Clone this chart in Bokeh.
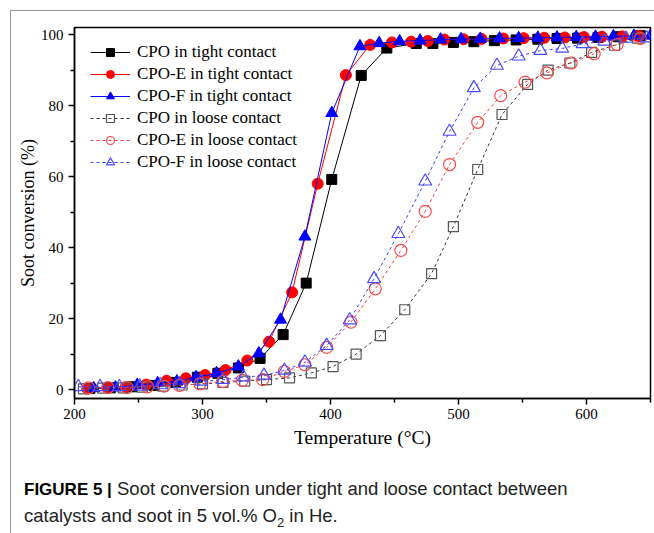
from bokeh.plotting import figure
from bokeh.models import Range1d, FixedTicker, Div, InlineStyleSheet
from bokeh.layouts import column
from bokeh.embed import file_html
from bokeh.resources import INLINE

# ---- data ----
tight_cpo_T = [212, 228, 245, 262, 279, 296, 312, 328, 345, 363, 381, 401, 424, 444, 467, 480, 496, 512, 528, 545, 562, 577, 593, 609, 625, 642]
tight_cpo_v = [0.3, 0.5, 0.8, 1.2, 2.0, 3.5, 4.6, 6.1, 8.8, 15.5, 30.0, 59.2, 88.5, 96.2, 97.5, 97.5, 97.8, 98.0, 98.3, 98.5, 98.7, 98.9, 99.0, 99.2, 99.4, 99.7]

tight_e_T = [210, 226, 240, 256, 272, 287, 302, 318, 335, 352, 370, 390, 412, 431, 448, 463, 476, 489, 504, 518, 535, 551, 567, 583, 598, 612, 628, 641]
tight_e_v = [0.3, 0.5, 0.7, 1.4, 2.5, 3.2, 4.1, 5.5, 8.2, 13.5, 27.4, 58.0, 88.6, 97.1, 97.8, 98.0, 98.2, 98.6, 98.7, 98.8, 98.9, 99.0, 99.1, 99.2, 99.3, 99.4, 99.5, 99.6]

tight_f_T = [215, 232, 249, 265, 280, 295, 311, 328, 344, 361, 380, 401, 423, 438, 454, 470, 486, 502, 517, 532, 547, 562, 577, 592, 607, 621, 637, 650]
tight_f_v = [0.4, 0.6, 1.3, 1.8, 2.3, 3.5, 4.6, 6.5, 10.2, 19.7, 43.1, 77.9, 96.7, 97.6, 98.1, 98.3, 98.6, 98.7, 98.8, 98.9, 99.0, 99.1, 99.2, 99.3, 99.4, 99.5, 99.6, 99.7]

loose_cpo_T = [207, 222, 238, 253, 269, 284, 300, 316, 333, 350, 368, 385, 402, 420, 439, 458, 479, 496, 515, 534, 554, 570, 587, 604, 622, 640]
loose_cpo_v = [0.2, 0.4, 0.5, 0.7, 1.0, 1.3, 1.6, 2.0, 2.4, 2.8, 3.3, 4.7, 6.5, 10.0, 15.2, 22.5, 32.7, 45.9, 62.0, 77.5, 86.0, 90.0, 92.0, 95.0, 97.0, 99.0]

loose_e_T = [211, 226, 241, 257, 270, 282, 298, 316, 331, 347, 364, 380, 397, 416, 435, 455, 474, 493, 515, 533, 552, 569, 588, 606, 624, 642]
loose_e_v = [0.5, 0.6, 0.6, 0.8, 1.0, 1.2, 1.6, 2.3, 2.6, 2.8, 5.1, 7.0, 11.9, 19.0, 28.4, 39.2, 50.2, 63.4, 75.3, 82.8, 86.6, 89.2, 92.0, 94.6, 97.2, 98.9]

loose_f_T = [203, 220, 235, 251, 267, 282, 299, 316, 332, 348, 364, 380, 397, 415, 434, 453, 474, 493, 512, 530, 547, 564, 581, 597, 614, 631, 647]
loose_f_v = [0.8, 0.8, 0.8, 0.9, 1.3, 1.6, 2.3, 2.8, 3.5, 4.0, 5.4, 7.7, 12.4, 19.6, 31.2, 43.9, 58.7, 72.7, 85.0, 91.3, 93.9, 95.5, 96.1, 97.4, 98.1, 98.9, 99.0]

x_ticks = [200, 300, 400, 500, 600]
y_ticks = [0, 20, 40, 60, 80, 100]

SERIF = "Liberation Serif"

p = figure(width=643, height=447, output_backend="svg", toolbar_location=None,
           x_range=Range1d(200, 650), y_range=Range1d(-2.5, 102),
           min_border_left=63, min_border_right=4, min_border_top=16, min_border_bottom=60,
           x_axis_label="Temperature (\u00b0C)", y_axis_label="Soot conversion (%)")

p.grid.visible = False
p.outline_line_color = "black"
p.outline_line_width = 1.5
p.background_fill_color = "white"
p.border_fill_color = "white"

for ax in (p.xaxis[0], p.yaxis[0]):
    ax.axis_line_width = 1.5
    ax.axis_line_color = "black"
    ax.major_tick_line_width = 1.5
    ax.minor_tick_line_width = 1.5
    ax.major_tick_in = 0
    ax.major_tick_out = 6
    ax.minor_tick_in = 0
    ax.minor_tick_out = 4
    ax.major_label_text_font = SERIF
    ax.major_label_text_font_size = "15px"
    ax.major_label_text_color = "black"
    ax.axis_label_text_font = SERIF
    ax.axis_label_text_font_style = "normal"
    ax.axis_label_text_color = "black"

p.xaxis.axis_label_text_font_size = "19.5px"
p.yaxis.axis_label_text_font_size = "18px"
p.xaxis.ticker = FixedTicker(ticks=x_ticks, minor_ticks=[250, 350, 450, 550, 650])
p.yaxis.ticker = FixedTicker(ticks=y_ticks, minor_ticks=[10, 30, 50, 70, 90])
p.xaxis.major_label_standoff = 4
p.yaxis.major_label_standoff = 5
p.xaxis.axis_label_standoff = 5
p.yaxis.axis_label_standoff = 0

# tight contact (solid lines, filled markers)
p.line(tight_cpo_T, tight_cpo_v, line_color="black", line_width=1, legend_label="CPO in tight contact")
p.scatter(tight_cpo_T, tight_cpo_v, marker="square", size=10, fill_color="black", line_color="black",
          legend_label="CPO in tight contact")
p.line(tight_e_T, tight_e_v, line_color="#ff0000", line_width=1, legend_label="CPO-E in tight contact")
p.scatter(tight_e_T, tight_e_v, marker="circle", size=11, fill_color="#ff0000", line_color="#ff0000",
          legend_label="CPO-E in tight contact")
p.line(tight_f_T, tight_f_v, line_color="#0000ff", line_width=1, legend_label="CPO-F in tight contact")
p.scatter(tight_f_T, tight_f_v, marker="triangle", size=12, fill_color="#0000ff", line_color="#0000ff",
          legend_label="CPO-F in tight contact")

# loose contact (dashed lines, open markers)
p.line(loose_cpo_T, loose_cpo_v, line_color="#333333", line_width=1, line_dash="3 3",
       legend_label="CPO in loose contact")
p.scatter(loose_cpo_T, loose_cpo_v, marker="square", size=10, fill_color=None, line_color="#555555",
          line_width=1.2, legend_label="CPO in loose contact")
p.line(loose_e_T, loose_e_v, line_color="#ff3c3c", line_width=1, line_dash="3 3",
       legend_label="CPO-E in loose contact")
p.scatter(loose_e_T, loose_e_v, marker="circle", size=12, fill_color=None, line_color="#ff4a4a",
          line_width=1.2, legend_label="CPO-E in loose contact")
p.line(loose_f_T, loose_f_v, line_color="#3c3cff", line_width=1, line_dash="3 3",
       legend_label="CPO-F in loose contact")
p.scatter(loose_f_T, loose_f_v, marker="triangle", size=13, fill_color=None, line_color="#4a4aff",
          line_width=1.2, legend_label="CPO-F in loose contact")

lg = p.legend[0]
lg.location = (16, 226)
lg.border_line_color = None
lg.background_fill_alpha = 0
lg.margin = 0
lg.padding = 7
lg.spacing = 2
lg.glyph_width = 40
lg.glyph_height = 20
lg.label_height = 20
lg.label_standoff = 7
lg.label_text_font = SERIF
lg.label_text_font_size = "17px"
lg.label_text_color = "black"

caption = Div(
    text=('<span style="font-weight:bold;font-size:17px;color:#000;">FIGURE 5 |</span> '
          'Soot conversion under tight and loose contact between<br>'
          'catalysts and soot in 5 vol.% O<sub style="font-size:13px;line-height:0;">2</sub> in He.'),
    width=643, height=75,
    styles={"font-family": "'Liberation Sans', Arial, sans-serif", "font-size": "18.5px",
            "line-height": "26px", "color": "#222222", "padding-top": "13px", "padding-left": "8px",
            "box-sizing": "border-box", "background": "white"})

frame_css = InlineStyleSheet(css=":host { border-left: 1px solid #9a9a9a; border-top: 1px solid #9a9a9a; }")
layout = column(p, caption, spacing=0, margin=(10, 0, 0, 10))
layout.stylesheets = [frame_css]

open("out.html", "w").write(file_html(layout, INLINE))
